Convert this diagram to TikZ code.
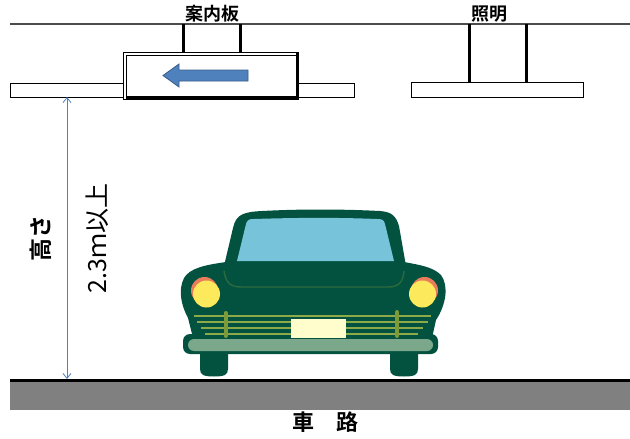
\documentclass[tikz,border=0pt]{standalone}
\usepackage{fontspec}
\newfontfamily\jp{Noto Sans CJK JP}[BoldFont={Noto Sans CJK JP Bold}]
\usetikzlibrary{arrows.meta}
\definecolor{carbody}{HTML}{03523F}
\definecolor{glass}{HTML}{77C3DA}
\definecolor{lampyellow}{HTML}{FDE95C}
\definecolor{lamprim}{HTML}{E97C5A}
\definecolor{grille}{HTML}{8EAA48}
\definecolor{grillebar}{HTML}{7C9A3A}
\definecolor{plate}{HTML}{FFFDCC}
\definecolor{bumper}{HTML}{7BA88A}
\definecolor{seamline}{HTML}{2C6A3E}
\definecolor{arrowblue}{HTML}{4F81BD}
\definecolor{arrowedge}{HTML}{385D8A}
\definecolor{road}{HTML}{808080}
\tikzset{
  beam/.style={draw, line width=0.9pt, fill=white},
  hanger/.style={line width=3pt},
  label/.style={font=\jp\bfseries\fontsize{18}{20}\selectfont, inner sep=0pt},
  dimtext/.style={font=\jp\fontsize{25}{27}\selectfont, inner sep=0pt, rotate=90},
  carpart/.style={fill=carbody, draw=none},
  grilleline/.style={draw=grille, line width=2.2pt},
  grillepost/.style={draw=grillebar, line width=4pt, line cap=round},
}
\begin{document}
\begin{tikzpicture}[x=1pt, y=-1pt]
\useasboundingbox (0,0) rectangle (630,439);
\fill[white] (0,0) rectangle (630,439);

% ceiling
\draw[gray!60!black, line width=1.3pt] (10,24) -- (630,24);

% ceiling beam on both sides of the sign
\draw[beam] (10,83) rectangle (123,97);
\draw[beam] (298,83) rectangle (354,97);

% sign hangers
\draw[hanger] (183,24) -- (183,53);
\draw[hanger] (240,24) -- (240,53);

% guide sign
\draw[line width=0.9pt, fill=white] (123,52) rectangle (298,99);
\draw[line width=0.9pt] (126,99) -- (126,55) -- (297,55);
\draw[line width=2.6pt] (126,97.7) -- (297,97.7) -- (297,52);
\fill[arrowblue, draw=arrowedge, line width=0.8pt]
  (163,75.5) -- (179,64) -- (179,70) -- (248,70) -- (248,81) -- (179,81) -- (179,87) -- cycle;
\node[label] (sign) at (212,14) {案内板};

% lighting
\draw[hanger] (469,24) -- (469,82);
\draw[hanger] (526,24) -- (526,82);
\draw[beam] (411,82) rectangle (583,97);
\node[label] (light) at (489,14) {照明};

% road
\fill[road] (10,381) rectangle (630,410);
\draw[line width=3pt] (10,380) -- (630,380);
\node[font=\jp\bfseries\fontsize{22}{24}\selectfont, inner sep=0pt] (roadlbl) at (325,422) {車　路};

% clearance dimension
\coordinate (dimtop) at (67,97);
\coordinate (dimbot) at (67,379);
\draw[arrowblue, line width=0.8pt, {Straight Barb[length=5pt,width=8pt]}-{Straight Barb[length=5pt,width=8pt]}] (dimtop) -- (dimbot);
\node[dimtext, font=\jp\bfseries\fontsize{23}{25}\selectfont] (hlbl) at (41,238.5) {高さ};
\node[dimtext] (vlbl) at (97,238.5) {2.3ｍ以上};

% car: wheels
\path[carpart] (200,348) -- (200,369) .. controls (200,375) and (204,376.5) .. (214,376.5)
  .. controls (224,376.5) and (228,375) .. (228,369) -- (228,348) -- cycle;
\path[carpart] (390,348) -- (390,369) .. controls (390,375) and (394,376.5) .. (404,376.5)
  .. controls (414,376.5) and (418,375) .. (418,369) -- (418,348) -- cycle;
% car: cabin
\path[carpart] (224,266) -- (233,228) .. controls (236,214) and (244,212) .. (262,211)
  .. controls (300,209) and (340,209) .. (380,211)
  .. controls (392,212) and (396,216) .. (399,226) -- (406,266) -- cycle;
% car: lower body
\path[carpart] (226,262) .. controls (205,265) and (190,268) .. (184,278)
  .. controls (178,290) and (181,305) .. (188,318) -- (193,338) -- (432,338) -- (436,320)
  .. controls (446,305) and (449,286) .. (441,275)
  .. controls (433,267) and (420,265) .. (404,262) -- cycle;
% car: bumper
\path[carpart, rounded corners=7pt] (183,334) rectangle (438,354);
\fill[bumper, rounded corners=6pt] (188,339) rectangle (433,351);
% car: windshield
\fill[glass] (237,261) -- (246,224) .. controls (247,220) and (249,219) .. (254,219)
  .. controls (300,217.5) and (340,217.5) .. (377,219)
  .. controls (382,219) and (384,220) .. (385,224) -- (394,261) -- cycle;
% car: seam below the windshield
\draw[seamline, line width=1.4pt] (224,271) .. controls (226,283) and (230,287) .. (242,287)
  -- (388,287) .. controls (399,287) and (403,282) .. (404,271);
% car: headlights
\fill[lamprim] (204.5,290.5) circle (13.5);
\fill[lampyellow] (206.5,294) circle (13.5);
\fill[lamprim] (424.5,290.5) circle (13.5);
\fill[lampyellow] (422.5,294) circle (13.5);
% car: grille
\draw[grilleline] (194,316) -- (431,316);
\draw[grilleline] (197,322) -- (428,322);
\draw[grilleline] (201,328) -- (423,328);
\draw[grilleline] (205,334) -- (418,334);
\draw[grillepost] (225.5,313) -- (225.5,336);
\draw[grillepost] (397,312) -- (397,336);
\fill[plate] (291,319) rectangle (346,338);
\end{tikzpicture}
\end{document}
